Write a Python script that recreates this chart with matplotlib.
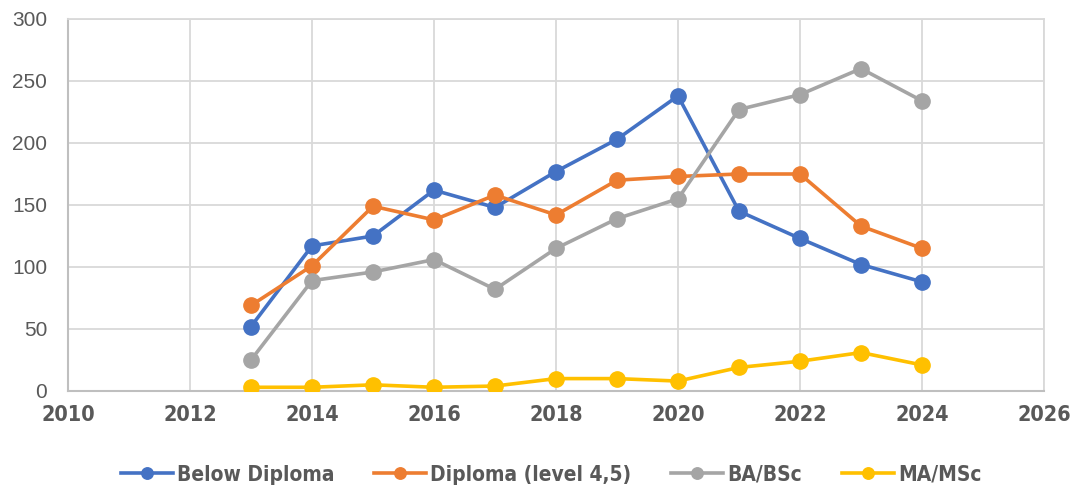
import matplotlib
matplotlib.use('Agg')
import matplotlib.pyplot as plt
from matplotlib import font_manager

years = [2013, 2014, 2015, 2016, 2017, 2018, 2019, 2020, 2021, 2022, 2023, 2024]
below_diploma = [52, 117, 125, 162, 148, 177, 203, 238, 145, 123, 102, 88]
diploma = [69, 101, 149, 138, 158, 142, 170, 173, 175, 175, 133, 115]
ba_bsc = [25, 89, 96, 106, 82, 115, 139, 155, 227, 239, 260, 234]
ma_msc = [3, 3, 5, 3, 4, 10, 10, 8, 19, 24, 31, 21]

series = [
    ('Below Diploma', below_diploma, '#4472c4'),
    ('Diploma (level 4,5)', diploma, '#ed7d31'),
    ('BA/BSc', ba_bsc, '#a5a5a5'),
    ('MA/MSc', ma_msc, '#ffc000'),
]

x_ticks = [2010, 2012, 2014, 2016, 2018, 2020, 2022, 2024, 2026]
y_ticks = [0, 50, 100, 150, 200, 250, 300]

# condensed bold for the x labels and legend (closest to the heavy narrow face)
tick_font = font_manager.FontProperties(family='DejaVu Sans', weight='bold',
                                        stretch='condensed', size=15.5)
legend_font = font_manager.FontProperties(family='DejaVu Sans', weight='bold',
                                          stretch='condensed', size=15)

fig = plt.figure(figsize=(10.77, 4.91), dpi=100)
ax = fig.add_axes([68 / 1077, 100 / 491, 976 / 1077, 372 / 491])

for name, vals, col in series:
    ax.plot(years, vals, color=col, lw=2.6, marker='o', ms=11,
            label=name, zorder=3)

ax.set_xlim(2010, 2026)
ax.set_ylim(0, 300)
ax.set_xticks(x_ticks)
ax.set_yticks(y_ticks)
ax.grid(True, color='#d9d9d9', lw=1.3, zorder=0)
ax.tick_params(length=0)
ax.tick_params(axis='y', pad=15, labelsize=15, labelcolor='#595959')
ax.tick_params(axis='x', pad=10)
for lab in ax.get_yticklabels():
    lab.set_family(['Liberation Sans', 'DejaVu Sans'])
for lab in ax.get_xticklabels():
    lab.set_fontproperties(tick_font)
    lab.set_color('#595959')

for side in ['top', 'right']:
    ax.spines[side].set_color('#d9d9d9')
    ax.spines[side].set_linewidth(1.3)
for side in ['left', 'bottom']:
    ax.spines[side].set_color('#bfbfbf')
    ax.spines[side].set_linewidth(1.5)

leg = ax.legend(loc='center', bbox_to_anchor=(0.495, -0.225), ncol=4,
                frameon=False, handlelength=2.5, handletextpad=0.2,
                columnspacing=1.9, markerscale=0.75, prop=legend_font)
for t in leg.get_texts():
    t.set_color('#595959')

fig.savefig('out.png', dpi=100)
